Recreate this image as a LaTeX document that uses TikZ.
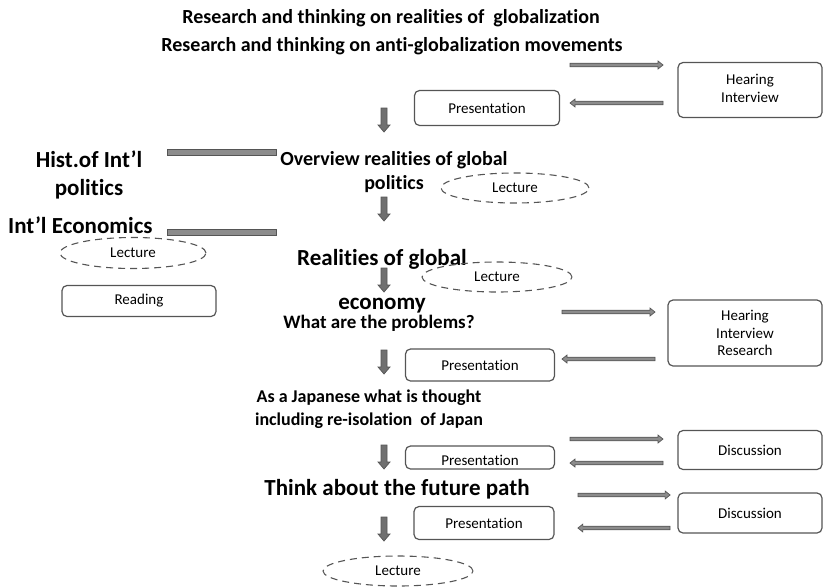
\documentclass[tikz,border=0pt]{standalone}
\usepackage{fontspec}
\setmainfont[RawFeature=-liga]{Carlito}
\usetikzlibrary{shapes.geometric}
\definecolor{edge}{HTML}{555555}
\definecolor{shaft}{HTML}{8C8C8C}
\tikzset{
  x=1pt,y=-1pt,
  every node/.style={inner sep=0pt},
  head/.style={font=\bfseries\fontsize{20}{24}\selectfont,align=center},
  bighead/.style={font=\bfseries\fontsize{23}{28}\selectfont,align=center},
  boxed/.style={draw=edge,line width=1.2pt,rounded corners=5pt,font=\fontsize{15}{17.5}\selectfont,align=center},
  lect/.style={ellipse,draw=edge,line width=1.1pt,dash pattern=on 7pt off 5pt,font=\fontsize{15}{17}\selectfont},
  % thin block arrow pointing along +x, length 93
  harrow/.pic={\filldraw[draw=edge,fill=shaft,line width=0.7pt]
     (0,-1.8) -- (88,-1.8) -- (88,-4) -- (93,0) -- (88,4) -- (88,1.8) -- (0,1.8) -- cycle;},
  % short block arrow pointing along +y, length 24
  varrow/.pic={\filldraw[draw=edge,fill=shaft!80!black,line width=0.7pt]
     (-3,0) -- (3,0) -- (3,17) -- (6,17) -- (0,24) -- (-6,17) -- (-3,17) -- cycle;},
  bar/.style={draw=edge,fill=shaft,line width=0.7pt}
}
\begin{document}
\begin{tikzpicture}
\useasboundingbox (0,0) rectangle (830,587);

% headings
\node[head] (t1) at (391,18) {Research and thinking on realities of\ \ globalization};
\node[head] (t2) at (392,46) {Research and thinking on anti-globalization movements};

\node[boxed,minimum width=144pt,minimum height=55pt] (hi1) at (750,90) {\raisebox{2pt}{\begin{tabular}{@{}c@{}}Hearing\\Interview\end{tabular}}};
\node[boxed,minimum width=145pt,minimum height=35pt] (pr1) at (487,108) {Presentation};
\coordinate (ra1) at (570,65);
\coordinate (la1) at (663,103);
\pic at (ra1) {harrow};
\pic[rotate=180] at (la1) {harrow};
\pic at (384,108) {varrow};

% left column
\node[bighead] (hist) at (89,175) {Hist.of Int’l\\politics};
\node[bighead,anchor=west] (econ) at (8,225) {Int’l Economics};
\filldraw[bar] (167,149.5) rectangle (276,155);
\filldraw[bar] (167,229.5) rectangle (276,235);
\node[lect,minimum width=146pt,minimum height=31pt] (lc2) at (133,253) {Lecture};
\node[boxed,minimum width=154pt,minimum height=31pt] (rd) at (139,301) {Reading};

% overview
\node[head] (ov) at (394,172) {Overview realities of global\\politics};
\node[lect,minimum width=148pt,minimum height=30pt] (lc1) at (515,188) {Lecture};
\pic at (384,197) {varrow};

% economy
\node[bighead,align=center] (eco) at (382,281) {Realities of global\\[16pt]economy};
\node[lect,minimum width=150pt,minimum height=30pt] (lc3) at (497,277) {Lecture};
\pic at (384,268) {varrow};
\node[head,font=\bfseries\fontsize{19}{23}\selectfont] (wp) at (379,323) {What are the problems?};

\node[boxed,minimum width=154pt,minimum height=66pt] (hi2) at (745,333) {Hearing\\Interview\\Research};
\node[boxed,minimum width=149pt,minimum height=32pt] (pr2) at (480,365) {Presentation};
\coordinate (ra2) at (562,312);
\coordinate (la2) at (655,359);
\pic at (ra2) {harrow};
\pic[rotate=180] at (la2) {harrow};
\pic at (384,350) {varrow};

% Japan
\node[head,font=\bfseries\fontsize{18}{22.5}\selectfont] (jp) at (369,409) {As a Japanese what is thought\\including re-isolation\ \ of Japan};
\node[boxed,minimum width=144pt,minimum height=39pt] (ds1) at (750,450) {Discussion};
\node[boxed,minimum width=149pt,minimum height=23pt] (pr3) at (480,457.5) {\raisebox{-8pt}[0pt][0pt]{Presentation}};
\coordinate (ra3) at (570,439);
\coordinate (la3) at (663,463);
\pic at (ra3) {harrow};
\pic[rotate=180] at (la3) {harrow};
\pic at (384,445) {varrow};

% future path
\node[bighead] (fp) at (397,489) {Think about the future path};
\node[boxed,minimum width=144pt,minimum height=40pt] (ds2) at (750,513) {Discussion};
\node[boxed,minimum width=140pt,minimum height=33pt] (pr4) at (484,523) {Presentation};
\coordinate (ra4) at (578,495);
\coordinate (la4) at (670,528);
\pic[scale=0.99] at (ra4) {harrow};
\pic[rotate=180,scale=0.99] at (la4) {harrow};
\pic at (384,517) {varrow};

\node[lect,minimum width=150pt,minimum height=30pt] (lc4) at (398,571) {Lecture};
\end{tikzpicture}
\end{document}
